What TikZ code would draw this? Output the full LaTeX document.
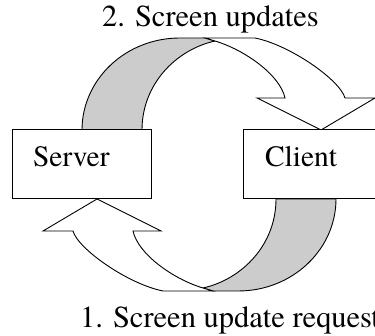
\documentclass[tikz,border=0pt]{standalone}
\usepackage{fontspec}
\setmainfont{TeX Gyre Termes}
\begin{document}
\begin{tikzpicture}[x=1pt,y=-1pt,
  every node/.style={inner sep=0pt,outer sep=0pt,font=\fontsize{30.5}{36}\selectfont},
  hostbox/.style={draw,line width=1pt,fill=white,rectangle,anchor=north west,
    minimum width=139pt,minimum height=69pt},
  txt/.style={anchor=base west},
  boxtxt/.style={anchor=base west,font=\fontsize{29.5}{36}\selectfont},
  backface/.style={draw,line width=0.9pt,line join=round,fill={rgb,255:red,204;green,204;blue,204}},
  frontface/.style={draw,line width=0.9pt,line join=miter,fill=white}]
\useasboundingbox (0,0) rectangle (375,336);
\clip (0,0) rectangle (375,336);

% curved twisted arrow from Server to Client
\def\curvedarrow{%
  \path[backface] (82,130) .. controls (82,80) and (125,38) .. (180,38)
     -- (205,38) -- (215,41) .. controls (175,50) and (142,85) .. (142,130) -- cycle;
  \path[frontface] (215,41) -- (205,38) -- (255,38)
     .. controls (290,45) and (340,80) .. (345,98)
     -- (375,98) -- (321,130) -- (257,98) -- (285,98)
     .. controls (280,75) and (245,50) .. (215,41) -- cycle;}
\curvedarrow
% the same arrow turned half round, from Client back to Server
\begin{scope}[rotate around={180:(209,164.5)}]
  \curvedarrow
\end{scope}

\node[hostbox] (server) at (12,130) {};
\node[hostbox] (client) at (243,130) {};
\node[boxtxt] (servertxt) at (33,167) {Server};
\node[boxtxt] (clienttxt) at (265,167) {Client};

\node[txt] (updates) at (102,27) {2. Screen updates};
\node[txt] (request) at (80,328) {1. Screen update request};
\end{tikzpicture}
\end{document}
